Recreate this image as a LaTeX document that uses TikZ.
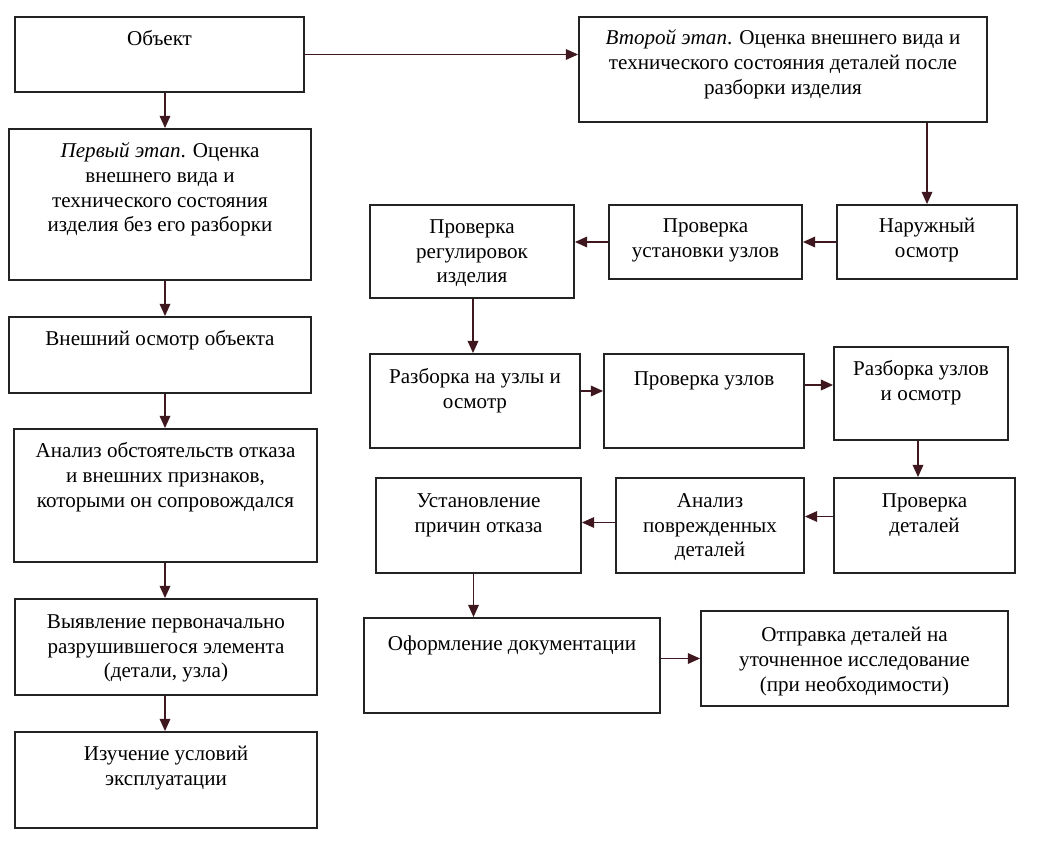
\documentclass[tikz,border=0pt]{standalone}
\usepackage{fontspec}
\setmainfont{Liberation Serif}
\usetikzlibrary{fit,arrows.meta}

\definecolor{arrowbrown}{RGB}{62,24,30}
\definecolor{boxline}{RGB}{35,35,35}

\tikzset{
  box/.style={draw=boxline, line width=1pt, inner sep=0pt},
  txt/.style={anchor=north, align=center, inner sep=0pt, font=\fontsize{12}{14.1}\selectfont,
    execute at begin node=\strut},
  arr/.style={draw=arrowbrown, line width=1pt, -{Triangle[length=7pt,width=6pt]}}
}

\begin{document}
\begin{tikzpicture}[x=0.02cm, y=-0.02cm]
  \useasboundingbox (0,0) rectangle (1043,851);
  \coordinate (lc) at (165,0);

  % left column: first stage
  \node[box, fit={(15,17) (304,92)}] (obj) {};
  \node[txt] (objT) at ([shift={(0,12)}]obj.north) {Объект};
  \node[box, fit={(9,129) (311,280)}] (first) {};
  \node[txt] (firstT) at ([shift={(0,14)}]first.north) {\textit{Первый этап}. Оценка\\внешнего вида и\\технического состояния\\изделия без его разборки};
  \node[box, fit={(9,317) (311,393)}] (vnesh) {};
  \node[txt] (vneshT) at ([shift={(0,12)}]vnesh.north) {Внешний осмотр объекта};
  \node[box, fit={(14,429) (317,562)}] (anal) {};
  \node[txt] (analT) at ([shift={(0,14)}]anal.north) {Анализ обстоятельств отказа\\и внешних признаков,\\которыми он сопровождался};
  \node[box, fit={(15,599) (317,695)}] (vyyav) {};
  \node[txt] (vyyavT) at ([shift={(0,16)}]vyyav.north) {Выявление первоначально\\разрушившегося элемента\\(детали, узла)};
  \node[box, fit={(15,732) (317,828)}] (izuch) {};
  \node[txt] (izuchT) at ([shift={(0,15)}]izuch.north) {Изучение условий\\эксплуатации};

  % right part: second stage
  \node[box, fit={(579,17) (987,122)}] (second) {};
  \node[txt] (secondT) at ([shift={(0,13)}]second.north) {\textit{Второй этап}. Оценка внешнего вида и\\технического состояния деталей после\\разборки изделия};
  \node[box, fit={(837,205) (1017,279)}] (nar) {};
  \node[txt] (narT) at ([shift={(0,14)}]nar.north) {Наружный\\осмотр};
  \node[box, fit={(609,205) (802,279)}] (ust) {};
  \node[txt] (ustT) at ([shift={(0,14)}]ust.north) {Проверка\\установки узлов};
  \node[box, fit={(370,205) (574,298)}] (reg) {};
  \node[txt] (regT) at ([shift={(0,15)}]reg.north) {Проверка\\регулировок\\изделия};
  \node[box, fit={(370,354) (580,448)}] (razb1) {};
  \node[txt] (razb1T) at ([shift={(0,15)}]razb1.north) {Разборка на узлы и\\осмотр};
  \node[box, fit={(604,354) (804,448)}] (provUz) {};
  \node[txt] (provUzT) at ([shift={(0,15)}]provUz.north) {Проверка узлов};
  \node[box, fit={(834,347) (1008,440)}] (razb2) {};
  \node[txt] (razb2T) at ([shift={(0,14)}]razb2.north) {Разборка узлов\\и осмотр};
  \node[box, fit={(834,478) (1015,573)}] (provDet) {};
  \node[txt] (provDetT) at ([shift={(0,16)}]provDet.north) {Проверка\\деталей};
  \node[box, fit={(616,478) (804,573)}] (anDet) {};
  \node[txt] (anDetT) at ([shift={(0,16)}]anDet.north) {Анализ\\поврежденных\\деталей};
  \node[box, fit={(376,478) (581,573)}] (ustan) {};
  \node[txt] (ustanT) at ([shift={(0,16)}]ustan.north) {Установление\\причин отказа};
  \node[box, fit={(364,618) (660,713)}] (oform) {};
  \node[txt] (oformT) at ([shift={(0,16)}]oform.north) {Оформление документации};
  \node[box, fit={(701,611) (1008,706)}] (otpr) {};
  \node[txt] (otprT) at ([shift={(0,17)}]otpr.north) {Отправка деталей на\\уточненное исследование\\(при необходимости)};

  % arrows, left column
  \draw[arr] (obj.south -| lc) -- (first.north -| lc);
  \draw[arr] (first.south -| lc) -- (vnesh.north -| lc);
  \draw[arr] (vnesh.south -| lc) -- (anal.north -| lc);
  \draw[arr] (anal.south -| lc) -- (vyyav.north -| lc);
  \draw[arr] (vyyav.south -| lc) -- (izuch.north -| lc);
  % arrows, right part
  \draw[arr] (obj.east) -- (obj.east -| second.west);
  \draw[arr] (second.south -| nar.north) -- (nar.north);
  \draw[arr] (nar.west) -- (ust.east);
  \draw[arr] (ust.west) -- (ust.west -| reg.east);
  \draw[arr] ([shift={(1,0)}]reg.south) -- ([shift={(1,0)}]reg.south |- razb1.north);
  \draw[arr] ([shift={(0,-10)}]razb1.east) -- ([shift={(0,-10)}]razb1.east -| provUz.west);
  \draw[arr] ([shift={(0,-16)}]provUz.east) -- ([shift={(0,-16)}]provUz.east -| razb2.west);
  \draw[arr] ([shift={(-3,0)}]razb2.south) -- ([shift={(-3,0)}]razb2.south |- provDet.north);
  \draw[arr] ([shift={(0,-9)}]provDet.west) -- ([shift={(0,-9)}]provDet.west -| anDet.east);
  \draw[arr] ([shift={(0,-3)}]anDet.west) -- ([shift={(0,-3)}]anDet.west -| ustan.east);
  \draw[arr] ([shift={(-5,0)}]ustan.south) -- ([shift={(-5,0)}]ustan.south |- oform.north);
  \draw[arr] (otpr.west -| oform.east) -- (otpr.west);
\end{tikzpicture}
\end{document}
